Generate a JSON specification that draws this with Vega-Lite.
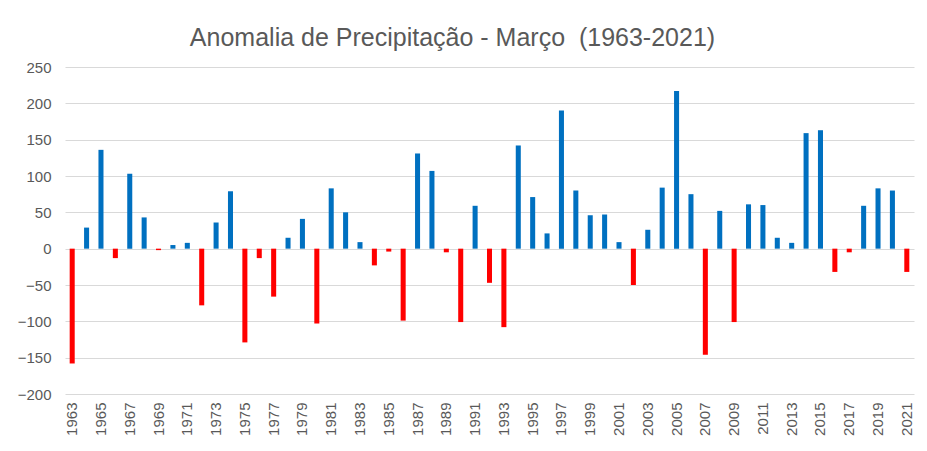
{
  "$schema": "https://vega.github.io/schema/vega-lite/v6.json",
  "autosize": {"type": "none"},
  "padding": {"left": 65, "top": 67, "right": 13, "bottom": 57},
  "width": 849,
  "height": 327,
  "background": "white",
  "title": {
    "text": "Anomalia de Precipitação - Março\u00a0 (1963-2021)",
    "font": "Liberation Sans",
    "fontSize": 25,
    "fontWeight": "normal",
    "color": "#595959",
    "anchor": "middle",
    "offset": 9,
    "dx": -37
  },
  "data": {
    "values": [
      {"ano": 1963, "anomalia": -158},
      {"ano": 1964, "anomalia": 29},
      {"ano": 1965, "anomalia": 136},
      {"ano": 1966, "anomalia": -13},
      {"ano": 1967, "anomalia": 103},
      {"ano": 1968, "anomalia": 43},
      {"ano": 1969, "anomalia": -2},
      {"ano": 1970, "anomalia": 5},
      {"ano": 1971, "anomalia": 8},
      {"ano": 1972, "anomalia": -78},
      {"ano": 1973, "anomalia": 36},
      {"ano": 1974, "anomalia": 79},
      {"ano": 1975, "anomalia": -129},
      {"ano": 1976, "anomalia": -13},
      {"ano": 1977, "anomalia": -66},
      {"ano": 1978, "anomalia": 15},
      {"ano": 1979, "anomalia": 41},
      {"ano": 1980, "anomalia": -103},
      {"ano": 1981, "anomalia": 83},
      {"ano": 1982, "anomalia": 50},
      {"ano": 1983, "anomalia": 9},
      {"ano": 1984, "anomalia": -23},
      {"ano": 1985, "anomalia": -4},
      {"ano": 1986, "anomalia": -99},
      {"ano": 1987, "anomalia": 131},
      {"ano": 1988, "anomalia": 107},
      {"ano": 1989, "anomalia": -5},
      {"ano": 1990, "anomalia": -101},
      {"ano": 1991, "anomalia": 59},
      {"ano": 1992, "anomalia": -47},
      {"ano": 1993, "anomalia": -108},
      {"ano": 1994, "anomalia": 142},
      {"ano": 1995, "anomalia": 71},
      {"ano": 1996, "anomalia": 21},
      {"ano": 1997, "anomalia": 190},
      {"ano": 1998, "anomalia": 80},
      {"ano": 1999, "anomalia": 46},
      {"ano": 2000, "anomalia": 47},
      {"ano": 2001, "anomalia": 9},
      {"ano": 2002, "anomalia": -50},
      {"ano": 2003, "anomalia": 26},
      {"ano": 2004, "anomalia": 84},
      {"ano": 2005, "anomalia": 217},
      {"ano": 2006, "anomalia": 75},
      {"ano": 2007, "anomalia": -146},
      {"ano": 2008, "anomalia": 52},
      {"ano": 2009, "anomalia": -101},
      {"ano": 2010, "anomalia": 61},
      {"ano": 2011, "anomalia": 60},
      {"ano": 2012, "anomalia": 15},
      {"ano": 2013, "anomalia": 8},
      {"ano": 2014, "anomalia": 159},
      {"ano": 2015, "anomalia": 163},
      {"ano": 2016, "anomalia": -32},
      {"ano": 2017, "anomalia": -5},
      {"ano": 2018, "anomalia": 59},
      {"ano": 2019, "anomalia": 83},
      {"ano": 2020, "anomalia": 80},
      {"ano": 2021, "anomalia": -32}
    ]
  },
  "mark": {"type": "bar"},
  "encoding": {
    "x": {
      "field": "ano",
      "type": "ordinal",
      "scale": {"paddingInner": 0.65, "paddingOuter": 0.325},
      "axis": {
        "title": null,
        "values": [1963,1965,1967,1969,1971,1973,1975,1977,1979,1981,1983,1985,1987,1989,1991,1993,1995,1997,1999,2001,2003,2005,2007,2009,2011,2013,2015,2017,2019,2021],
        "labelAngle": -90,
        "labelAlign": "right",
        "labelBaseline": "middle",
        "labelPadding": 8,
        "labelFont": "Liberation Sans",
        "labelFontSize": 15,
        "labelColor": "#595959",
        "domain": false,
        "ticks": false,
        "grid": false
      }
    },
    "y": {
      "field": "anomalia",
      "type": "quantitative",
      "scale": {"domain": [-200, 250], "nice": false, "zero": false},
      "axis": {
        "title": null,
        "values": [-200,-150,-100,-50,0,50,100,150,200,250],
        "labelFont": "Liberation Sans",
        "labelFontSize": 15,
        "labelColor": "#595959",
        "labelPadding": 14,
        "domain": false,
        "ticks": false,
        "grid": true,
        "gridColor": "#d9d9d9",
        "gridWidth": 1.2
      }
    },
    "color": {
      "condition": {"test": "datum.anomalia < 0", "value": "#FF0000"},
      "value": "#0070C0"
    }
  },
  "config": {"view": {"stroke": null}}
}
